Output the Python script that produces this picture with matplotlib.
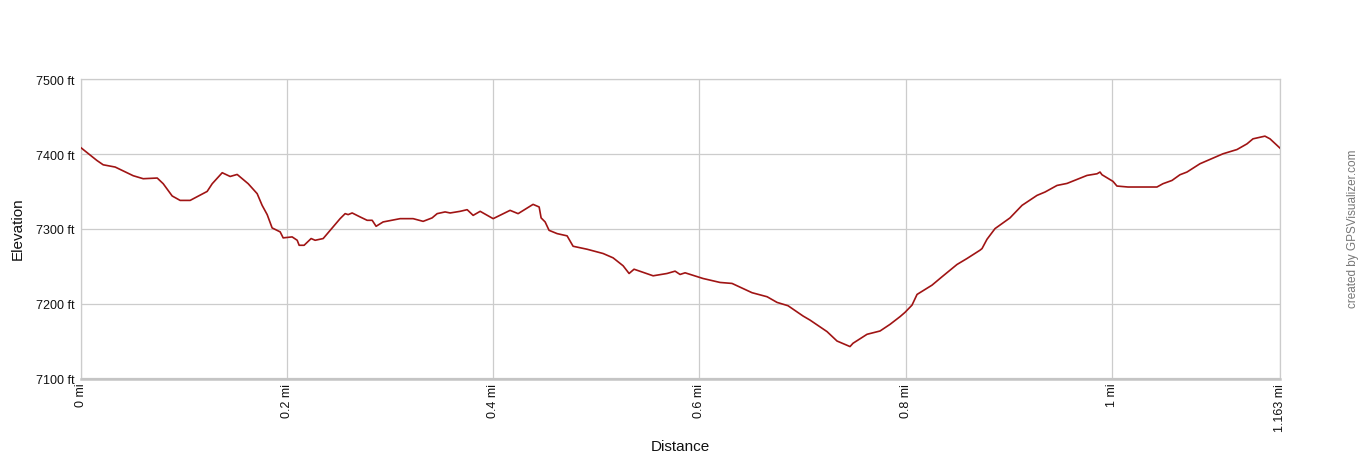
import matplotlib
matplotlib.use("Agg")
import matplotlib.pyplot as plt

plt.rcParams['font.family'] = ['Liberation Sans', 'DejaVu Sans']

distance_mi = [0.0, 0.0159, 0.0220, 0.0336, 0.0511, 0.0608, 0.0744, 0.0802, 0.0889, 0.0966,
               0.1063, 0.1228, 0.1277, 0.1374, 0.1451, 0.1519, 0.1626, 0.1713, 0.1761, 0.1810,
               0.1858, 0.1936, 0.1965, 0.2052, 0.2101, 0.2120, 0.2168, 0.2236, 0.2275, 0.2353,
               0.2450, 0.2517, 0.2566, 0.2595, 0.2634, 0.2711, 0.2779, 0.2828, 0.2866, 0.2934,
               0.3099, 0.3225, 0.3322, 0.3409, 0.3458, 0.3535, 0.3584, 0.3681, 0.3749, 0.3807,
               0.3875, 0.4001, 0.4165, 0.4243, 0.4388, 0.4447, 0.4466, 0.4505, 0.4543, 0.4621,
               0.4718, 0.4776, 0.4912, 0.5067, 0.5164, 0.5261, 0.5319, 0.5367, 0.5552, 0.5687,
               0.5765, 0.5813, 0.5862, 0.6036, 0.6201, 0.6317, 0.6511, 0.6657, 0.6754, 0.6860,
               0.7006, 0.7073, 0.7238, 0.7335, 0.7461, 0.7490, 0.7626, 0.7752, 0.7849, 0.7946,
               0.7994, 0.8062, 0.8111, 0.8256, 0.8353, 0.8498, 0.8595, 0.8721, 0.8741, 0.8789,
               0.8867, 0.9012, 0.9129, 0.9274, 0.9352, 0.9468, 0.9565, 0.9759, 0.9856, 0.9885,
               0.9904, 1.0011, 1.0049, 1.0156, 1.0437, 1.0495, 1.0583, 1.0660, 1.0728, 1.0854,
               1.0980, 1.1077, 1.1213, 1.1310, 1.1368, 1.1484, 1.1533, 1.163]

elevation_ft = [7409, 7391.5, 7385.7, 7382.7, 7371.1, 7367.1, 7368, 7360.4, 7344, 7338.1,
                7338.1, 7350.1, 7360.4, 7375.1, 7370.1, 7372.8, 7360.4, 7347.1, 7331.5, 7319.1,
                7301.3, 7296, 7288, 7289.3, 7284.8, 7278.1, 7278.1, 7287.1, 7284.8, 7287.1,
                7302.7, 7313.7, 7320.4, 7319.1, 7321.3, 7316, 7311.5, 7311.5, 7303.5, 7309.3,
                7313.7, 7313.7, 7310.1, 7314.7, 7320.4, 7322.7, 7321.3, 7323.5, 7325.7, 7318.1,
                7323.5, 7313.7, 7324.8, 7320.4, 7332.8, 7329.3, 7314.7, 7309.3, 7298.1, 7293.7,
                7290.7, 7276.8, 7272.8, 7267.1, 7261.3, 7250.7, 7240.4, 7246.1, 7237.3, 7240.4,
                7243.5, 7239.1, 7241.3, 7233.7, 7228.4, 7227.1, 7214.7, 7209.3, 7201.7, 7197.3,
                7183.5, 7178.1, 7162.7, 7150.1, 7142.7, 7147.1, 7159.1, 7163.5, 7172.4, 7182.7,
                7188.4, 7198.1, 7212.4, 7224.8, 7236, 7252.4, 7260.4, 7271.5, 7273.7, 7286.1,
                7300.4, 7314.7, 7331.5, 7344.8, 7349.3, 7358.1, 7360.8, 7371.5, 7373.7, 7376,
                7372.4, 7363.5, 7357.3, 7356, 7356, 7360.4, 7364.8, 7372.4, 7376, 7387.1,
                7394.7, 7400.4, 7406.1, 7413.7, 7420.4, 7424, 7420.4, 7408]

x_ticks = [0, 0.2, 0.4, 0.6, 0.8, 1.0, 1.163]
x_tick_labels = ["0 mi", "0.2 mi", "0.4 mi", "0.6 mi", "0.8 mi", "1 mi", "1.163 mi"]
y_ticks = [7100, 7200, 7300, 7400, 7500]
y_tick_labels = ["7100 ft", "7200 ft", "7300 ft", "7400 ft", "7500 ft"]

W, H = 1360, 460
fig = plt.figure(figsize=(W / 100, H / 100), dpi=100)
ax = fig.add_axes([80.5 / W, 1 - 379.5 / H, 1199.5 / W, 299.2 / H])

ax.plot(distance_mi, elevation_ft, color='#a01414', lw=1.2, solid_joinstyle='round', zorder=3)

ax.set_xlim(0, 1.163)
ax.set_ylim(7100, 7500)
ax.set_xticks(x_ticks)
ax.set_xticklabels(x_tick_labels, rotation=90, fontsize=9, color='#111111')
ax.set_yticks(y_ticks)
ax.set_yticklabels(y_tick_labels, fontsize=9, color='#111111')
ax.tick_params(axis='both', length=0)
ax.tick_params(axis='x', pad=3)
ax.tick_params(axis='y', pad=4)
ax.grid(True, color='#cccccc', lw=0.9, zorder=1)

for side in ['top', 'right', 'left']:
    ax.spines[side].set_color('#cccccc')
    ax.spines[side].set_linewidth(0.9)
ax.spines['bottom'].set_color('#c4c4c4')
ax.spines['bottom'].set_linewidth(1.8)

fig.text(680 / W, 1 - 447 / H, "Distance", ha='center', va='center', fontsize=11, color='#111111')
fig.text(18 / W, 1 - 229 / H, "Elevation", ha='center', va='center', rotation=90, fontsize=11, color='#111111')
fig.text(1353 / W, 1 - 229 / H, "created by GPSVisualizer.com", ha='center', va='center',
         rotation=90, fontsize=8.5, color='#777777')

fig.savefig("out.png", dpi=100)
